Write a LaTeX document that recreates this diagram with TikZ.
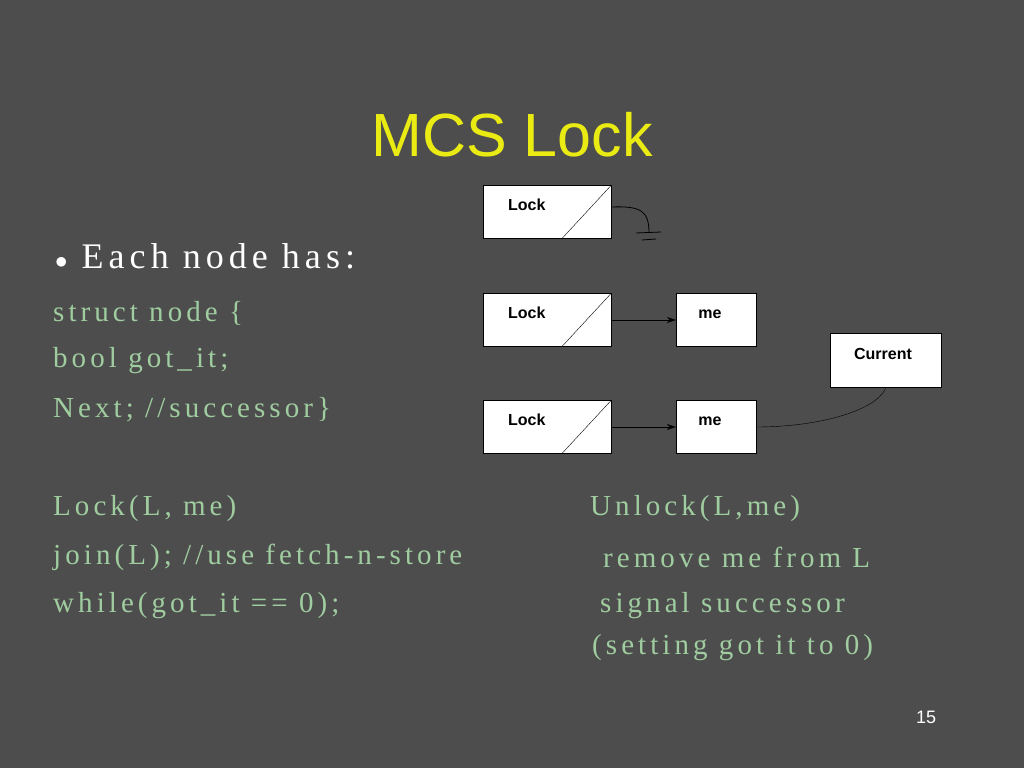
\documentclass[tikz,border=0pt]{standalone}
\usepackage{fontspec}
\setmainfont{Liberation Serif}[LetterSpace=14]
\setsansfont{Liberation Sans}
\usetikzlibrary{arrows.meta,positioning}
\definecolor{slidebg}{RGB}{77,77,77}
\definecolor{codegreen}{RGB}{160,205,160}
\definecolor{titleyellow}{RGB}{235,235,20}
\begin{document}
\begin{tikzpicture}[x=1pt,y=-1pt,>={Stealth[length=9pt,width=6pt]},
    box/.style={draw=black,fill=white,minimum width=128pt,minimum height=53pt,inner sep=0pt},
    small box/.style={box,minimum width=80pt},
    box label/.style={font=\sffamily\bfseries\fontsize{16}{18}\selectfont,black},
    code/.style={anchor=west,font=\fontsize{29}{32}\selectfont,text=codegreen,inner sep=0pt}]
    \fill[slidebg] (0,0) rectangle (1024,768);
    \useasboundingbox (0,0) rectangle (1024,768);
    \node[font=\sffamily\fontsize{61}{66}\selectfont,text=titleyellow] (title) at (512,135) {MCS Lock};
    % boxes
    \node[box] (lock1) at (547,212) {};
    \node[box] (lock2) at (547,320) {};
    \node[small box] (me2) at (716,320) {};
    \node[box,minimum width=111pt,minimum height=54pt] (current) at (886,360) {};
    \node[box] (lock3) at (547,427) {};
    \node[small box] (me3) at (716,427) {};
    \foreach \b in {lock1,lock2,lock3} {
        \draw ([xshift=79pt]\b.south west) -- (\b.north east);
        \node[box label] at ([xshift=44pt,yshift=-19pt]\b.north west) {Lock};
    }
    \node[box label] at ([xshift=-6pt,yshift=-21pt]me2.north) {me};
    \node[box label] at ([xshift=-6pt,yshift=-21pt]me3.north) {me};
    \node[box label] at ([xshift=-3pt,yshift=-21pt]current.north) {Current};
    % links
    \draw[->] (lock2) -- (me2);
    \draw[->] (lock3) -- (me3);
    \draw (me3.east) .. controls (820,427) and (878,410) .. (current.south);
    \coordinate (gnd) at (649,233);
    \draw[thick] (lock1.east |- 0,207) .. controls (640,206) and (649,210) .. (gnd);
    \draw[thick] (636,233) -- (661,232) (642,240) -- (656,239);
    % text
    \node[anchor=west,font=\fontsize{36}{40}\selectfont,text=white,inner sep=0pt] (head) at (55,256) {$\bullet$\ Each node has:};
    \node[code] (c1) at (53,313) {struct node \{};
    \node[code] (c2) at (53,361) {bool got\_it;};
    \node[code] (c3) at (53,410) {Next; //successor\}};
    \node[code] (c4) at (53,509) {Lock(L, me)};
    \node[code] (c5) at (53,557) {join(L); //use fetch-n-store};
    \node[code] (c6) at (53,606) {while(got\_it == 0);};
    \node[code] (u1) at (590,509) {Unlock(L,me)};
    \node[code] (u2) at (603,557) {remove me from L};
    \node[code] (u3) at (600,606) {signal successor};
    \node[code] (u4) at (592,648) {(setting got it to 0)};
    \node[font=\sffamily\fontsize{18}{20}\selectfont,text=white] (page) at (926,717) {15};
\end{tikzpicture}
\end{document}
